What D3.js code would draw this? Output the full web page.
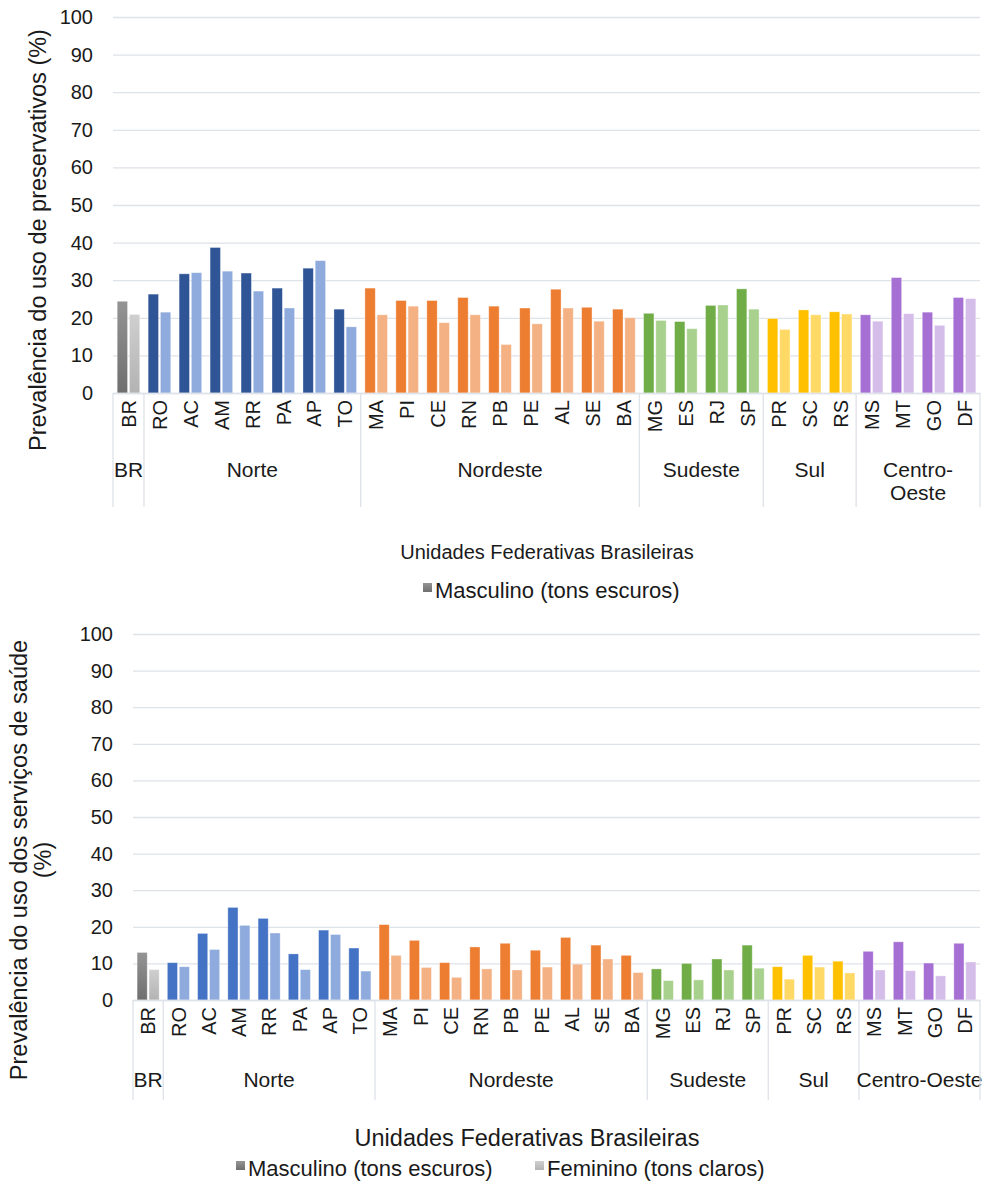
<!DOCTYPE html>
<html>

<head>
    <meta charset="utf-8">
    <title>Prevalência por UF</title>
    <script src="https://d3js.org/d3.v7.min.js"></script>
</head>
<style>
    body {
        margin: 0;
        background: #fff;
        font-family: "Liberation Sans", Arial, sans-serif;
    }

    text {
        fill: #1a1a1a;
    }
</style>

<body>
    <svg id="chart"></svg>
    <script>
        // Data
        var ufs = ["BR", "RO", "AC", "AM", "RR", "PA", "AP", "TO", "MA", "PI", "CE", "RN", "PB", "PE", "AL", "SE", "BA",
            "MG", "ES", "RJ", "SP", "PR", "SC", "RS", "MS", "MT", "GO", "DF"];
        var ufRegiao = ["BR", "Norte", "Norte", "Norte", "Norte", "Norte", "Norte", "Norte",
            "Nordeste", "Nordeste", "Nordeste", "Nordeste", "Nordeste", "Nordeste", "Nordeste", "Nordeste", "Nordeste",
            "Sudeste", "Sudeste", "Sudeste", "Sudeste", "Sul", "Sul", "Sul",
            "Centro-Oeste", "Centro-Oeste", "Centro-Oeste", "Centro-Oeste"];
        var regioes = ["BR", "Norte", "Nordeste", "Sudeste", "Sul", "Centro-Oeste"];

        // preservativos (%)
        var presMasc = [24.4, 26.3, 31.7, 38.7, 31.9, 27.9, 33.2, 22.3, 27.9, 24.6, 24.6, 25.4, 23.1, 22.6, 27.6, 22.8, 22.3,
            21.2, 19.0, 23.3, 27.7, 19.8, 22.1, 21.6, 20.8, 30.7, 21.5, 25.4];
        var presFem = [20.9, 21.5, 32.0, 32.4, 27.1, 22.6, 35.2, 17.6, 20.8, 23.1, 18.7, 20.8, 12.9, 18.4, 22.6, 19.1, 20.0,
            19.3, 17.1, 23.4, 22.3, 16.9, 20.8, 21.0, 19.1, 21.1, 18.0, 25.1];

        // serviços de saúde (%)
        var saudeMasc = [13.0, 10.2, 18.2, 25.3, 22.3, 12.6, 19.1, 14.2, 20.6, 16.3, 10.2, 14.5, 15.5, 13.6, 17.1, 15.0, 12.2,
            8.5, 10.0, 11.2, 15.0, 9.1, 12.2, 10.6, 13.3, 15.9, 10.1, 15.5];
        var saudeFem = [8.3, 9.1, 13.8, 20.4, 18.3, 8.3, 17.9, 7.9, 12.2, 8.9, 6.2, 8.5, 8.2, 9.0, 9.8, 11.2, 7.5,
            5.3, 5.5, 8.2, 8.7, 5.7, 9.0, 7.4, 8.2, 8.0, 6.6, 10.4];

        var yTicks = [0, 10, 20, 30, 40, 50, 60, 70, 80, 90, 100];

        // region colours: [dark, light]
        var coresTopo = {
            "Norte": ["#2f5597", "#8faadc"],
            "Nordeste": ["#ed7d31", "#f4b183"],
            "Sudeste": ["#70ad47", "#a9d18e"],
            "Sul": ["#ffc000", "#ffd966"],
            "Centro-Oeste": ["#a66fd4", "#d5bde9"]
        };
        var coresBase = Object.assign({}, coresTopo, {
            "Norte": ["#4472c4", "#8faadc"]
        });

        var svg = d3.select("#chart")
            .attr("width", 987)
            .attr("height", 1185);

        // gray gradients for BR
        var defs = svg.append("defs");
        [["gradM", "#949494", "#6f6f6f"], ["gradF", "#cfcfcf", "#b3b3b3"]].forEach(function(g) {
            var lg = defs.append("linearGradient").attr("id", g[0])
                .attr("x1", 0).attr("y1", 0).attr("x2", 0).attr("y2", 1);
            lg.append("stop").attr("offset", "0%").attr("stop-color", g[1]);
            lg.append("stop").attr("offset", "100%").attr("stop-color", g[2]);
        });

        function corBarra(cores, i, sexo) {
            var r = ufRegiao[i];
            if (r === "BR") return sexo === "M" ? "url(#gradM)" : "url(#gradF)";
            return cores[r][sexo === "M" ? 0 : 1];
        }

        function drawChart(cfg) {
            var g = svg.append("g");

            var x = d3.scaleBand()
                .domain(ufs)
                .range([cfg.left, cfg.right])
                .paddingInner(0.27)
                .paddingOuter(0.135);
            var xs = d3.scaleBand()
                .domain(["M", "F"])
                .range([0, x.bandwidth()])
                .paddingInner(0.15);
            var y = d3.scaleLinear()
                .domain([0, 100])
                .range([cfg.bottom, cfg.top]);

            // gridlines + y tick labels
            g.append("g")
                .attr("transform", "translate(" + cfg.left + ",0)")
                .call(d3.axisLeft(y).tickValues(yTicks).tickSize(-(cfg.right - cfg.left)).tickPadding(20))
                .call(function(a) {
                    a.select(".domain").remove();
                    a.selectAll("line").attr("stroke", "#dee2e9").attr("stroke-width", 1.3);
                    a.selectAll("text").attr("font-size", 20).attr("fill", "#1a1a1a")
                        .attr("font-family", "Liberation Sans, Arial, sans-serif");
                });

            // bars
            var linhas = ufs.map(function(u, i) {
                return { uf: u, i: i, M: cfg.masc[i], F: cfg.fem[i] };
            });
            var grupos = g.append("g").selectAll("g")
                .data(linhas)
                .enter()
                .append("g")
                .attr("transform", function(d) { return "translate(" + x(d.uf) + ",0)"; });
            grupos.selectAll("rect")
                .data(function(d) {
                    return ["M", "F"].map(function(s) { return { s: s, v: d[s], i: d.i }; });
                })
                .enter()
                .append("rect")
                .attr("x", function(d) { return xs(d.s); })
                .attr("y", function(d) { return y(d.v); })
                .attr("width", xs.bandwidth())
                .attr("height", function(d) { return y(0) - y(d.v); })
                .attr("fill", function(d) { return corBarra(cfg.cores, d.i, d.s); })
                .attr("stroke", "#ffffff")
                .attr("stroke-opacity", 0.45)
                .attr("stroke-width", 0.8);

            // category axis (rotated UF labels)
            var eixoX = g.append("g")
                .attr("transform", "translate(0," + cfg.bottom + ")")
                .call(d3.axisBottom(x).tickSize(0).tickPadding(0));
            eixoX.select(".domain").attr("stroke", "#dee2e9").attr("stroke-width", 1.3);
            eixoX.selectAll("text")
                .attr("font-size", 20)
                .attr("font-family", "Liberation Sans, Arial, sans-serif")
                .attr("fill", "#1a1a1a")
                .attr("y", 0)
                .attr("dy", "0.36em")
                .attr("transform", "translate(0,7) rotate(-90)")
                .style("text-anchor", "end");

            // region separators and labels
            var passo = x.step();
            var off = passo * x.paddingOuter();
            regioes.forEach(function(r) {
                var idx = ufRegiao.map(function(v, i) { return v === r ? i : -1; }).filter(function(i) { return i >= 0; });
                var x0 = x(ufs[idx[0]]) - off;
                var x1 = x(ufs[idx[idx.length - 1]]) + x.bandwidth() + off;
                g.append("line")
                    .attr("x1", x0).attr("x2", x0)
                    .attr("y1", cfg.bottom).attr("y2", cfg.sepBottom)
                    .attr("stroke", "#dee2e9").attr("stroke-width", 1.3);
                var nomes = cfg.regLabels[r];
                var t = g.append("text")
                    .attr("x", (x0 + x1) / 2)
                    .attr("y", cfg.regY)
                    .attr("text-anchor", "middle")
                    .attr("font-size", 21);
                nomes.forEach(function(n, k) {
                    t.append("tspan").attr("x", (x0 + x1) / 2).attr("dy", k === 0 ? 0 : 23).text(n);
                });
            });
            g.append("line")
                .attr("x1", cfg.right).attr("x2", cfg.right)
                .attr("y1", cfg.bottom).attr("y2", cfg.sepBottom)
                .attr("stroke", "#dee2e9").attr("stroke-width", 1.3);

            // y title
            var yt = g.append("text")
                .attr("transform", "translate(" + cfg.yTitleX + "," + cfg.yTitleY + ") rotate(-90)")
                .attr("text-anchor", "middle")
                .attr("font-size", 23.5);
            cfg.yTitle.forEach(function(s, k) {
                yt.append("tspan").attr("x", 0).attr("dy", k === 0 ? "0.35em" : 24).text(s);
            });

            // x title
            g.append("text")
                .attr("x", cfg.xTitleX)
                .attr("y", cfg.xTitleY)
                .attr("text-anchor", "middle")
                .attr("font-size", cfg.xTitleSize)
                .text("Unidades Federativas Brasileiras");

            // legend
            cfg.legend.forEach(function(l) {
                g.append("rect")
                    .attr("x", l.x).attr("y", cfg.legendY - 15)
                    .attr("width", 9).attr("height", 9)
                    .attr("fill", l.fill);
                g.append("text")
                    .attr("x", l.x + 12).attr("y", cfg.legendY)
                    .attr("font-size", 22)
                    .text(l.text);
            });
        }

        drawChart({
            left: 113, right: 980, top: 17, bottom: 393,
            masc: presMasc, fem: presFem, cores: coresTopo,
            sepBottom: 507, regY: 477,
            regLabels: { "BR": ["BR"], "Norte": ["Norte"], "Nordeste": ["Nordeste"], "Sudeste": ["Sudeste"], "Sul": ["Sul"], "Centro-Oeste": ["Centro-", "Oeste"] },
            yTitle: ["Prevalência do uso de preservativos (%)"], yTitleX: 38, yTitleY: 240,
            xTitleX: 547, xTitleY: 559, xTitleSize: 20,
            legendY: 598,
            legend: [{ x: 423, fill: "url(#gradM)", text: "Masculino (tons escuros)" }]
        });

        drawChart({
            left: 133, right: 980, top: 634, bottom: 1000,
            masc: saudeMasc, fem: saudeFem, cores: coresBase,
            sepBottom: 1100, regY: 1087,
            regLabels: { "BR": ["BR"], "Norte": ["Norte"], "Nordeste": ["Nordeste"], "Sudeste": ["Sudeste"], "Sul": ["Sul"], "Centro-Oeste": ["Centro-Oeste"] },
            yTitle: ["Prevalência do uso dos serviços de saúde", "(%)"], yTitleX: 19, yTitleY: 860,
            xTitleX: 527, xTitleY: 1146, xTitleSize: 23.5,
            legendY: 1176,
            legend: [{ x: 236, fill: "url(#gradM)", text: "Masculino (tons escuros)" },
                { x: 535, fill: "url(#gradF)", text: "Feminino (tons claros)" }]
        });
    </script>

</body>

</html>
